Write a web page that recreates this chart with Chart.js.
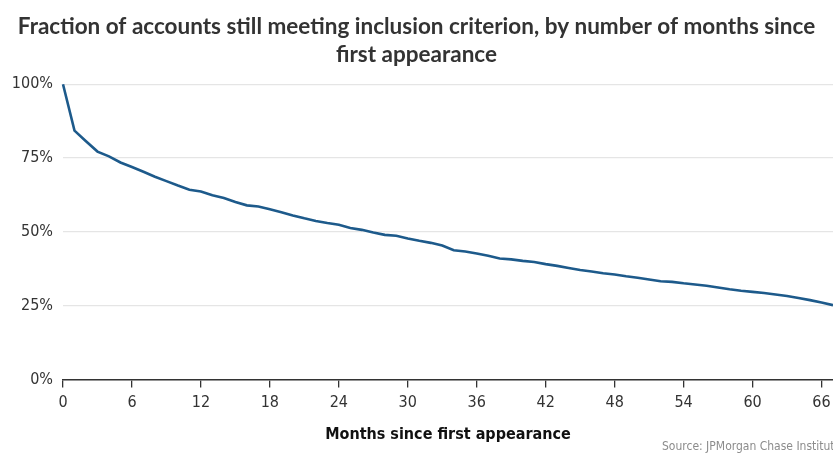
<!DOCTYPE html>
<html>
<head>
<meta charset="utf-8">
<script src="https://cdn.jsdelivr.net/npm/chart.js@4.4.1/dist/chart.umd.min.js"></script>
<style>
  html, body { margin: 0; padding: 0; background: #fff; }
  #wrap { width: 833px; height: 454px; position: relative; }
</style>
</head>
<body>
<div id="wrap"><canvas id="c"></canvas></div>
<script>
const titleLines = ["Fraction of accounts still meeting inclusion criterion, by number of months since", "first appearance"];
const xAxisTitle = "Months since first appearance";
const sourceText = "Source: JPMorgan Chase Institute";

const months = [0,1,2,3,4,5,6,7,8,9,10,11,12,13,14,15,16,17,18,19,20,21,22,23,24,25,26,27,28,29,30,31,32,33,34,35,36,37,38,39,40,41,42,43,44,45,46,47,48,49,50,51,52,53,54,55,56,57,58,59,60,61,62,63,64,65,66,67];
const fractionPct = [100,84.3,80.7,77.2,75.6,73.5,72.0,70.4,68.7,67.2,65.7,64.3,63.7,62.4,61.5,60.1,59.0,58.6,57.7,56.7,55.6,54.6,53.7,53.0,52.4,51.3,50.7,49.8,49.0,48.7,47.8,47.0,46.3,45.4,43.8,43.4,42.7,41.9,41.0,40.7,40.2,39.8,39.1,38.5,37.8,37.1,36.6,36.0,35.6,35.0,34.5,33.9,33.3,33.1,32.6,32.2,31.8,31.2,30.6,30.1,29.7,29.3,28.8,28.3,27.6,26.9,26.1,25.2];
const xTicks = [0,6,12,18,24,30,36,42,48,54,60,66];
const yTicks = [0,25,50,75,100];

const condensed = "'DejaVu Sans Condensed', 'Liberation Sans Narrow', 'DejaVu Sans', sans-serif";

const sourcePlugin = {
  id: 'sourceNote',
  afterDraw(chart) {
    const ctx = chart.ctx;
    ctx.save();
    ctx.font = "12px " + condensed;
    ctx.fillStyle = "#8c8c8c";
    ctx.textAlign = "left";
    ctx.textBaseline = "middle";
    ctx.fillText(sourceText, 662, 447);
    ctx.restore();
  }
};

new Chart(document.getElementById('c'), {
  type: 'line',
  data: {
    datasets: [{
      data: months.map((m, i) => ({ x: m, y: fractionPct[i] })),
      borderColor: '#1d5a8b',
      borderWidth: 2.6,
      pointRadius: 0,
      tension: 0,
      fill: false,
      clip: false
    }]
  },
  options: {
    responsive: true,
    maintainAspectRatio: false,
    animation: false,
    layout: { padding: { left: 0, right: 0, top: 0, bottom: 10 } },
    plugins: {
      legend: { display: false },
      tooltip: { enabled: false },
      title: {
        display: true,
        text: titleLines,
        color: '#333333',
        font: { family: "Lato, 'Open Sans', sans-serif", size: 22.5, weight: 'bold', lineHeight: 1.25 },
        padding: { top: 13, bottom: 15 }
      }
    },
    scales: {
      x: {
        type: 'linear',
        min: 0,
        max: 67,
        afterBuildTicks: (s) => { s.ticks = xTicks.map(v => ({ value: v })); },
        afterFit: (s) => { s.paddingRight = 0; s.paddingLeft = 0; },
        ticks: {
          color: '#333333',
          font: { family: condensed, size: 16 },
          padding: 6,
          maxRotation: 0,
          autoSkip: false
        },
        grid: { drawOnChartArea: false, drawTicks: true, tickLength: 8, color: '#333333', lineWidth: 1.3 },
        border: { display: true, color: '#333333', width: 1.5 },
        title: {
          display: true,
          text: xAxisTitle,
          color: '#111111',
          font: { family: condensed, size: 16, weight: 'bold' },
          padding: { top: 6, bottom: 0 }
        }
      },
      y: {
        min: 0,
        max: 100,
        afterBuildTicks: (s) => { s.ticks = yTicks.map(v => ({ value: v })); },
        afterFit: (s) => { s.width = 63; },
        ticks: {
          color: '#333333',
          font: { family: condensed, size: 16 },
          padding: 10,
          callback: (v) => v + '%'
        },
        grid: { drawTicks: false, color: '#e5e5e5', lineWidth: 1.3 },
        border: { display: false }
      }
    }
  },
  plugins: [sourcePlugin]
});
</script>
</body>
</html>
